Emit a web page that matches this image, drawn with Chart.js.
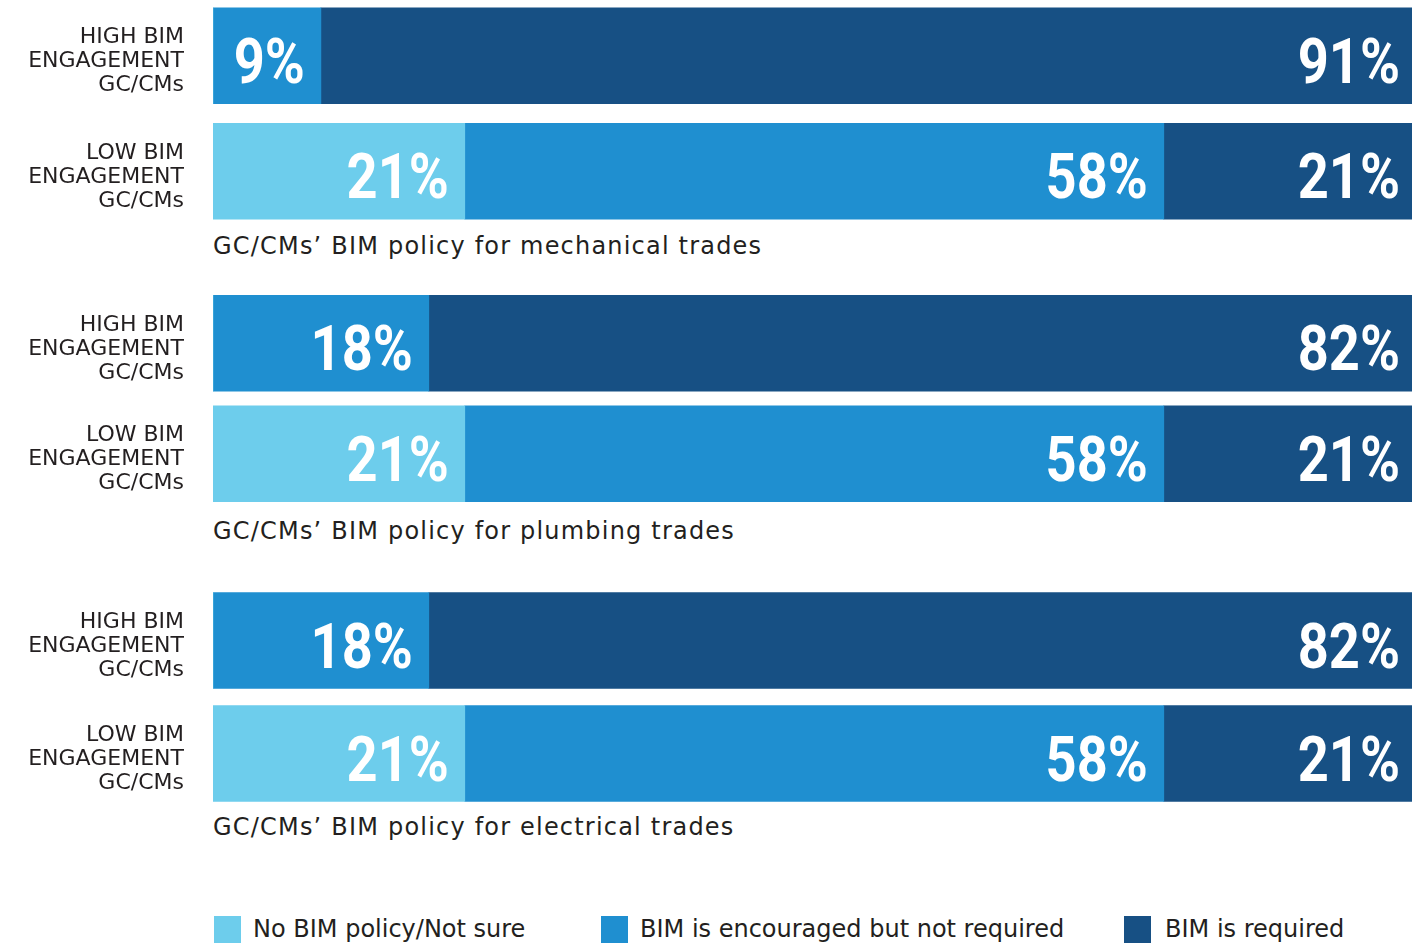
<!DOCTYPE html>
<html>
<head>
<meta charset="utf-8">
<script src="https://cdn.jsdelivr.net/npm/chart.js@4.4.1/dist/chart.umd.min.js"></script>
<style>
  html, body { margin: 0; padding: 0; background: #ffffff; }
  body { width: 1412px; height: 944px; position: relative; overflow: hidden; font-family: "DejaVu Sans", sans-serif; color: #231f20; }
  .wrap { position: absolute; left: 0; width: 1412px; }
  .sub { position: absolute; left: 213px; font-size: 24px; letter-spacing: 1.2px; line-height: 30px; white-space: nowrap; }
  .leg { position: absolute; top: 916px; height: 27px; }
  .leg .sw { position: absolute; left: 0; top: 0; width: 27px; height: 27px; }
  .leg .tx { position: absolute; top: 0; line-height: 27px; font-size: 24px; white-space: nowrap; }
</style>
</head>
<body>
<div class="wrap" style="top:-2px;height:231px"><canvas id="c0"></canvas></div>
<div class="sub" id="t0" style="top:231px"></div>
<div class="wrap" style="top:288px;height:221px"><canvas id="c1"></canvas></div>
<div class="sub" id="t1" style="top:516px"></div>
<div class="wrap" style="top:584px;height:226px"><canvas id="c2"></canvas></div>
<div class="sub" id="t2" style="top:812px"></div>
<div id="legend"></div>
<script>
// ---- data ----
const categories = [["HIGH BIM", "ENGAGEMENT", "GC/CMs"], ["LOW BIM", "ENGAGEMENT", "GC/CMs"]];
const seriesNames = ["No BIM policy/Not sure", "BIM is encouraged but not required", "BIM is required"];
const chartTitles = ["GC/CMs’ BIM policy for mechanical trades", "GC/CMs’ BIM policy for plumbing trades", "GC/CMs’ BIM policy for electrical trades"];
const mechNoPolicy = [0, 21];
const mechEncouraged = [9, 58.3];
const mechRequired = [91, 20.7];
const plumbNoPolicy = [0, 21];
const plumbEncouraged = [18, 58.3];
const plumbRequired = [82, 20.7];
const elecNoPolicy = [0, 21];
const elecEncouraged = [18, 58.3];
const elecRequired = [82, 20.7];

const colors = ["#6dcdec", "#1f8fd0", "#175084"];
const groups = [
  [mechNoPolicy, mechEncouraged, mechRequired],
  [plumbNoPolicy, plumbEncouraged, plumbRequired],
  [elecNoPolicy, elecEncouraged, elecRequired]
];

const pctFont = 'bold 63px Roboto, "DejaVu Sans", sans-serif';
const pctScaleX = 0.86;

const valueLabels = {
  id: 'valueLabels',
  afterDatasetsDraw(chart) {
    const ctx = chart.ctx;
    const n = chart.data.datasets.length;
    chart.data.datasets.forEach((ds, di) => {
      const meta = chart.getDatasetMeta(di);
      meta.data.forEach((el, i) => {
        const v = ds.data[i];
        if (!v) return;
        const off = (di === n - 1) ? 12 : 16;
        ctx.save();
        ctx.font = pctFont;
        ctx.fillStyle = '#ffffff';
        ctx.textAlign = 'right';
        ctx.textBaseline = 'alphabetic';
        ctx.translate(el.x - off, el.y + 27);
        ctx.scale(pctScaleX, 1);
        ctx.fillText(Math.round(v) + '%', 0, 0);
        ctx.restore();
      });
    });
  }
};

groups.forEach((g, k) => {
  document.getElementById('t' + k).textContent = chartTitles[k];
  new Chart(document.getElementById('c' + k), {
    type: 'bar',
    data: {
      labels: categories,
      datasets: g.map((vals, j) => ({
        label: seriesNames[j],
        data: vals,
        backgroundColor: colors[j],
        borderWidth: 0,
        barThickness: 96
      }))
    },
    options: {
      indexAxis: 'y',
      responsive: true,
      maintainAspectRatio: false,
      animation: false,
      layout: { padding: 0 },
      plugins: { legend: { display: false }, tooltip: { enabled: false }, title: { display: false } },
      scales: {
        x: { stacked: true, min: 0, max: 100, display: false },
        y: {
          stacked: true,
          grid: { display: false, drawTicks: false },
          border: { display: false },
          ticks: {
            padding: 29,
            labelOffset: 6,
            color: '#231f20',
            font: { family: '"DejaVu Sans", sans-serif', size: 22, lineHeight: 1.09 }
          },
          afterFit(scale) {
            scale.width = 213;
            scale.paddingTop = 0;
            scale.paddingBottom = 0;
          }
        }
      }
    },
    plugins: [valueLabels]
  });
});

// legend
const legendLeft = [214, 601, 1124];
const legendText = [253, 640, 1165];
const legEl = document.getElementById('legend');
seriesNames.forEach((name, j) => {
  const item = document.createElement('div');
  item.className = 'leg';
  item.style.left = legendLeft[j] + 'px';
  item.innerHTML = '<div class="sw" style="background:' + colors[j] + '"></div><div class="tx" style="left:' + (legendText[j] - legendLeft[j]) + 'px"></div>';
  item.querySelector('.tx').textContent = name;
  legEl.appendChild(item);
});
</script>
</body>
</html>
